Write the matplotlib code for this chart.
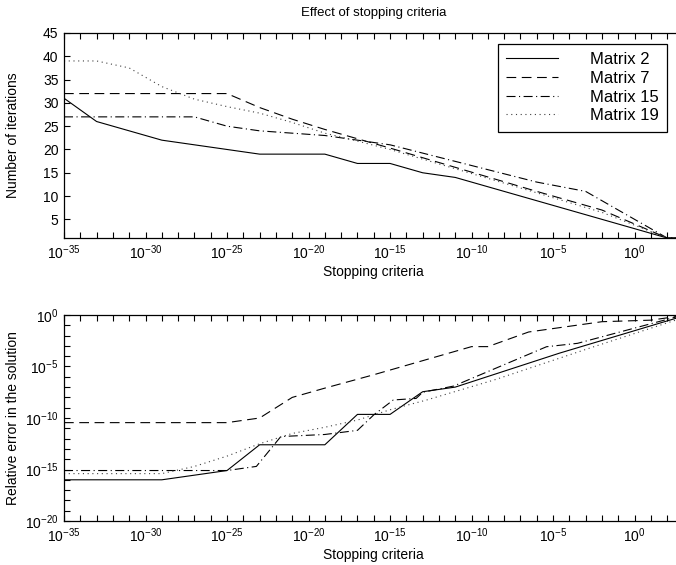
# effect of stopping criteria on iterations and error
import numpy as np
import matplotlib
matplotlib.use('Agg')
import matplotlib.pyplot as plt
from matplotlib.ticker import FixedLocator, LogFormatterMathtext, NullFormatter

plt.rcParams['font.family'] = ['Liberation Sans', 'DejaVu Sans']
plt.rcParams['mathtext.fontset'] = 'custom'
plt.rcParams['mathtext.rm'] = 'Liberation Sans'
plt.rcParams['mathtext.it'] = 'Liberation Sans:italic'
plt.rcParams['lines.scale_dashes'] = False

LABELS = ['Matrix 2', 'Matrix 7', 'Matrix 15', 'Matrix 19']

# iterations vs stopping criteria (x as log10 exponent)
it_m2_x = [-35, -33, -29, -23, -19, -17, -15, -13, -11, 2, 3]
it_m2_y = [31, 26, 22, 19, 19, 17, 17, 15, 14, 1, 1]
it_m7_x = [-35, -25, -23, -21, -19, -17, -15, -6, -2, 2, 3]
it_m7_y = [32, 32, 29, 26.5, 24.3, 22.3, 20.3, 11, 7, 1, 1]
it_m15_x = [-35, -27, -25, -23, -19, -17, -15, -6, -3, 2, 3]
it_m15_y = [27, 27, 25, 24, 23, 22, 21, 13, 11, 1, 1]
it_m19_x = [-35, -33, -31, -29, -27, -25, -23, -21, -19, -17, -15, -6, -2, 2, 3]
it_m19_y = [39, 39, 37.5, 33.5, 30.8, 29.2, 27.8, 25.8, 23.5, 21.8, 20, 10.7, 6.5, 1, 1]

# relative error vs stopping criteria (both as log10 exponents)
err_m2_x = [-35, -29, -25, -23, -19, -17, -15, -13, -11, -4.6, 3]
err_m2_y = [-16.0, -16.0, -15.1, -12.6, -12.6, -9.65, -9.65, -7.45, -7.0, -3.7, -0.1]
err_m7_x = [-35, -25, -23, -21, -19, -16, -10, -9, -6.5, -2, 1, 3]
err_m7_y = [-10.45, -10.45, -10.0, -8.0, -7.1, -5.8, -3.07, -3.07, -1.65, -0.65, -0.5, -0.05]
err_m15_x = [-35, -25, -23.2, -21.7, -19, -17, -16, -14.8, -13.4, -13, -11.1, -5.4, -3.5, 3]
err_m15_y = [-15.1, -15.1, -14.7, -11.8, -11.6, -11.2, -9.7, -8.25, -8.1, -7.5, -6.9, -3.08, -2.75, 0.0]
err_m19_x = [-35, -29, -27, -25, -23, -21, -19, -17, -15, -12.75, -8.6, -2.5, 3]
err_m19_y = [-15.4, -15.4, -14.7, -13.7, -12.5, -11.5, -10.9, -10.2, -9.2, -8.25, -6.3, -3.08, -0.25]

styles = [
    dict(linestyle='-', color='black'),
    dict(dashes=(7, 4), color='black'),
    dict(dashes=(6.5, 2.5, 0.8, 2.5), color='black'),
    dict(dashes=(0.8, 2.6), color='0.25'),
]

fig = plt.figure(figsize=(6.76, 5.65), dpi=100)
W, H = 676.0, 565.0
left = 64 / W
width = (683.5 - 64) / W
ax_top = fig.add_axes([left, 1 - 238 / H, width, (238 - 33) / H])
ax_bot = fig.add_axes([left, 1 - 521 / H, width, (521 - 315) / H])

it_data = [(it_m2_x, it_m2_y), (it_m7_x, it_m7_y), (it_m15_x, it_m15_y), (it_m19_x, it_m19_y)]
err_data = [(err_m2_x, err_m2_y), (err_m7_x, err_m7_y), (err_m15_x, err_m15_y), (err_m19_x, err_m19_y)]

for (xs, ys), st, lab in zip(it_data, styles, LABELS):
    ax_top.plot(10.0 ** np.array(xs), ys, lw=0.8, label=lab, **st)

for (xs, ys), st in zip(err_data, styles):
    ax_bot.plot(10.0 ** np.array(xs), 10.0 ** np.array(ys), lw=0.8, **st)

for ax in (ax_top, ax_bot):
    ax.set_xscale('log')
    ax.set_xlim(1e-35, 1e3)
    ax.xaxis.set_major_locator(FixedLocator(10.0 ** np.arange(-35, 5, 5)))
    ax.xaxis.set_minor_locator(FixedLocator(10.0 ** np.arange(-35, 4)))
    ax.xaxis.set_major_formatter(LogFormatterMathtext())
    ax.xaxis.set_minor_formatter(NullFormatter())
    ax.tick_params(which='both', direction='in', top=True, right=True,
                   length=4, width=0.8, labelsize=10, pad=4)
    ax.set_xlabel('Stopping criteria', fontsize=10, labelpad=2)
    for sp in ax.spines.values():
        sp.set_linewidth(0.9)

ax_top.set_ylim(1, 45)
ax_top.set_yticks(np.arange(5, 50, 5))
ax_top.set_ylabel('Number of iterations', fontsize=10)
ax_top.set_title('Effect of stopping criteria', fontsize=9.5, pad=12)

ax_bot.set_yscale('log')
ax_bot.set_ylim(1e-20, 1e0)
ax_bot.yaxis.set_major_locator(FixedLocator(10.0 ** np.arange(-20, 5, 5)))
ax_bot.yaxis.set_minor_locator(FixedLocator(10.0 ** np.arange(-20, 1)))
ax_bot.yaxis.set_major_formatter(LogFormatterMathtext())
ax_bot.yaxis.set_minor_formatter(NullFormatter())
ax_bot.set_ylabel('Relative error in the solution', fontsize=10)

# both y labels sit at about 20 px from the left edge
for ax in (ax_top, ax_bot):
    ax.yaxis.set_label_coords((20 - 64) / (683.5 - 64), 0.5)

leg = ax_top.legend(loc='upper right', bbox_to_anchor=(667 / W, 1 - 44 / H),
                    bbox_transform=fig.transFigure, borderaxespad=0,
                    fontsize=12, handlelength=3.1, handletextpad=1.9,
                    labelspacing=0.22, borderpad=0.5, fancybox=False,
                    framealpha=1, edgecolor='black')
leg.get_frame().set_linewidth(0.9)

fig.savefig('out.png', dpi=100)
